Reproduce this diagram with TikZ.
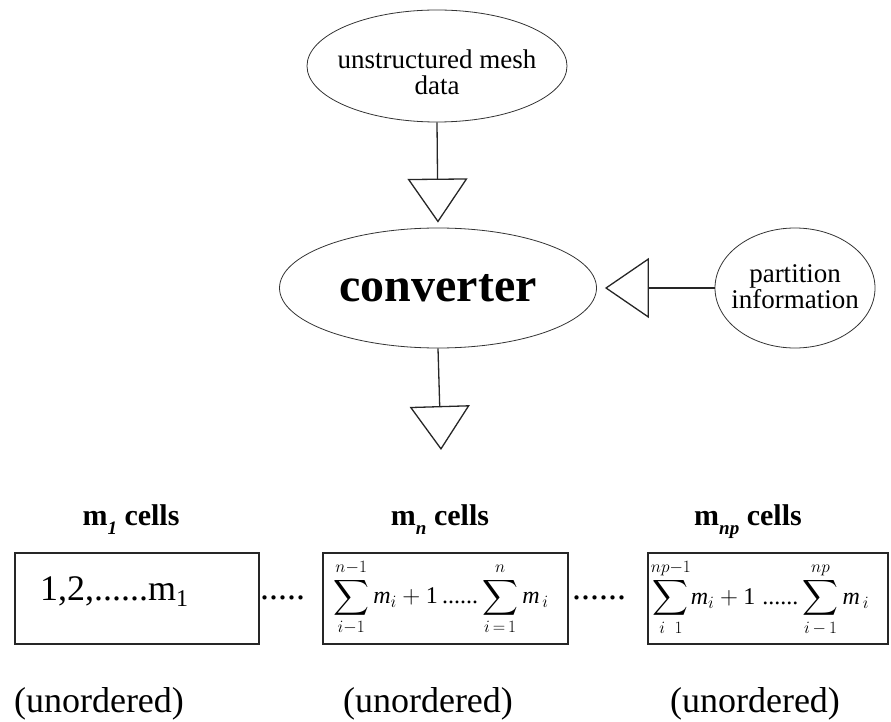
\documentclass[tikz,border=0pt]{standalone}
\usepackage{amsmath}
\usepackage{fontspec}
\setmainfont{Liberation Serif}
\usetikzlibrary{arrows.meta,shapes.geometric}
\newcommand{\vm}{\mathit{m}}
\newcommand{\tdots}{\text{......}}
\begin{document}
\begin{tikzpicture}[x=1pt,y=-1pt,
  bubble/.style={draw=black!80, line width=0.8pt, ellipse, inner sep=0pt},
  bubbletext/.style={font=\fontsize{27}{26}\selectfont, align=center, inner sep=0pt},
  flow/.style={draw=black!85, line width=1.3pt,
    -{Triangle[open,length=44pt,width=60pt,line width=1.3pt]}},
  cellbox/.style={draw=black!85, line width=1.5pt, minimum height=91pt, inner sep=0pt},
  head/.style={font=\fontsize{30}{30}\selectfont\bfseries, anchor=base, inner sep=0pt},
  note/.style={font=\fontsize{36}{36}\selectfont, anchor=base, inner sep=0pt},
  dots/.style={font=\fontsize{36}{36}\selectfont, anchor=base west, inner sep=0pt},
  sumtext/.style={font=\fontsize{24}{28}\selectfont, inner sep=0pt}]
\useasboundingbox (0,0) rectangle (891,722);

% input and converter ellipses
\node[bubble, minimum width=260pt, minimum height=112pt] (mesh) at (437,66) {};
\node[bubbletext] (meshtxt) at (437,72) {unstructured mesh\\data};
\node[bubble, minimum width=317pt, minimum height=120pt] (conv) at (438,288) {};
\node[font=\fontsize{48}{48}\selectfont\bfseries, inner sep=0pt] (convtxt) at (438,288) {converter};
\node[bubble, minimum width=160pt, minimum height=120pt] (part) at (795,288) {};
\node[bubbletext] (parttxt) at (795,287) {partition\\information};
\coordinate (out) at (441,450);

% flow arrows with open triangular heads
\draw[flow, shorten >=5pt] (mesh.south) -- (conv.north);
\draw[flow, shorten >=8pt] (part.west) -- (conv.east);
\draw[flow] (conv.south) -- (out);

% headings above the cell blocks
\node[head] (h1) at (131,525) {m\raisebox{-0.32em}{\fontsize{19}{19}\selectfont\bfseries\itshape 1} cells};
\node[head] (h2) at (440,525) {m\raisebox{-0.32em}{\fontsize{19}{19}\selectfont\bfseries\itshape n} cells};
\node[head] (h3) at (748,525) {m\raisebox{-0.32em}{\fontsize{19}{19}\selectfont\bfseries\itshape np} cells};

% cell blocks
\node[cellbox, minimum width=244pt] (b1) at (137,598.5) {};
\node[cellbox, minimum width=245pt] (b2) at (445.5,598.5) {};
\node[cellbox, minimum width=240pt] (b3) at (768,598.5) {};

\node[font=\fontsize{36}{36}\selectfont, anchor=base west, inner sep=0pt] (t1) at (40,600)
  {1,2,......m\raisebox{-0.18em}{\fontsize{24}{24}\selectfont 1}};
\node[sumtext] (t2) at (441,598)
  {$\displaystyle\sum_{i-1}^{n-1}\vm_i +\mathrm{1}\,\tdots\sum_{i\,=\,1}^{n}\vm_{\,i}$};
\node[sumtext] (t3) at (760,598)
  {$\displaystyle\sum_{i\;\;1}^{np-1}\!\vm_i +\mathrm{1}\;\tdots\sum_{i\,-\,1}^{np}\vm_{\,i}$};

\node[dots] (d1) at (260,599) {.....};
\node[dots] (d2) at (572,599) {......};

% ordering notes
\node[note] (u1) at (99,712) {(unordered)};
\node[note] (u2) at (428,712) {(unordered)};
\node[note] (u3) at (755,712) {(unordered)};
\end{tikzpicture}
\end{document}
